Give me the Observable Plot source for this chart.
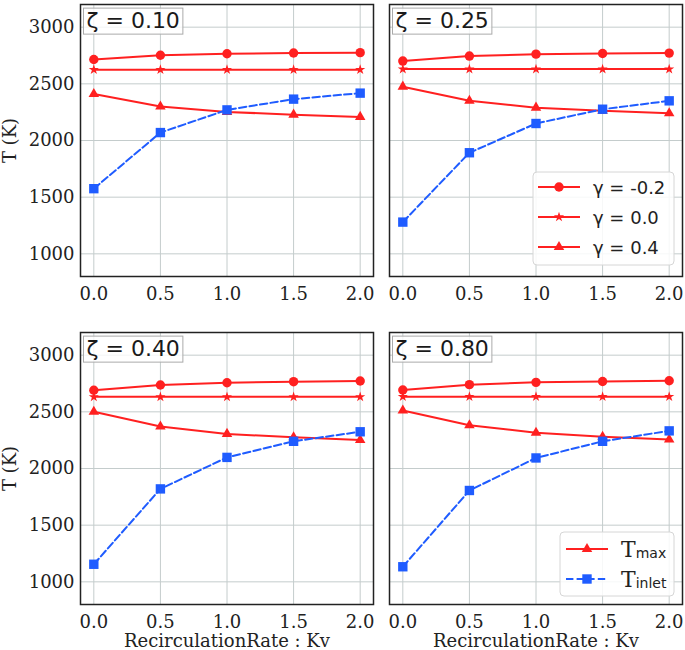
<!DOCTYPE html>
<html>
<head>
<meta charset="utf-8">
<script src="https://cdn.jsdelivr.net/npm/d3@7"></script>
<script src="https://cdn.jsdelivr.net/npm/@observablehq/plot@0.6"></script>
<style>
  body { margin: 0; background: #fff; }
  #wrap { position: relative; width: 685px; height: 650px; }
  #wrap > svg { display: block; }
</style>
</head>
<body>
<div id="wrap"></div>
<script>
// ---- data ----
const kv = [0, 0.5, 1.0, 1.5, 2.0];
const zetaLabels = ["ζ = 0.10", "ζ = 0.25", "ζ = 0.40", "ζ = 0.80"];
const xTicks = [0, 0.5, 1.0, 1.5, 2.0];
const yTicks = [1000, 1500, 2000, 2500, 3000];
const gammaLabels = ["γ = -0.2", "γ = 0.0", "γ = 0.4"];
const xLabel = "RecirculationRate : Kv";
const yLabel = "T (K)";

// T_max for each ζ panel (rows) at each Kv (columns)
const tmaxGammaNeg02 = [
  [2715, 2752, 2765, 2772, 2775],
  [2701, 2745, 2762, 2768, 2771],
  [2690, 2737, 2757, 2766, 2772],
  [2693, 2740, 2760, 2768, 2774]
];
const tmaxGamma00 = [
  [2625, 2625, 2625, 2625, 2625],
  [2630, 2630, 2630, 2630, 2630],
  [2632, 2632, 2632, 2632, 2632],
  [2634, 2634, 2634, 2634, 2634]
];
const tmaxGamma04 = [
  [2410, 2300, 2252, 2228, 2208],
  [2475, 2350, 2290, 2262, 2240],
  [2500, 2370, 2305, 2275, 2252],
  [2512, 2382, 2315, 2280, 2256]
];
const tInlet = [
  [1575, 2070, 2270, 2365, 2418],
  [1280, 1892, 2150, 2276, 2350],
  [1155, 1820, 2098, 2240, 2324],
  [1133, 1806, 2093, 2240, 2332]
];

// ---- styles ----
const red = "#ff2020";
const blue = "#1f5cff";
const gridColor = "#c4cccc";
const rCircle = 4.7, rStar = 3.2, rTri = 3.9, rSquare = 5.3;

const toRows = (values) => values.flatMap((arr, p) =>
  arr.map((t, j) => ({kv: kv[j], t, col: p % 2, row: Math.floor(p / 2)})));
const panels = zetaLabels.map((label, p) => ({label, col: p % 2, row: Math.floor(p / 2)}));

const sNeg = toRows(tmaxGammaNeg02);
const s00 = toRows(tmaxGamma00);
const s04 = toRows(tmaxGamma04);
const sIn = toRows(tInlet);
const ch = {x: "kv", y: "t", fx: "col", fy: "row"};

const plot = Plot.plot({
  width: 685,
  height: 650,
  marginLeft: 79,
  marginRight: 3,
  marginTop: 3,
  marginBottom: 45,
  style: {fontFamily: "DejaVu Serif", fontSize: "18px", color: "#222", background: "white", overflow: "visible"},
  x: {domain: [-0.1, 2.1]},
  y: {domain: [800, 3200]},
  fx: {axis: null, paddingInner: 0.052, paddingOuter: 0},
  fy: {axis: null, paddingInner: 0.17, paddingOuter: 0},
  marks: [
    Plot.gridX({ticks: xTicks, stroke: gridColor, strokeOpacity: 1, strokeWidth: 1}),
    Plot.gridY({ticks: yTicks, stroke: gridColor, strokeOpacity: 1, strokeWidth: 1}),
    Plot.axisX({ticks: xTicks, tickFormat: d3.format(".1f"), tickSize: 0, tickPadding: 11, facetAnchor: null, label: null, fontSize: 18, fill: "#222"}),
    Plot.axisY({ticks: yTicks, tickFormat: d => String(d), tickSize: 0, tickPadding: 6, label: null, fontSize: 18, fill: "#222"}),
    Plot.line(sNeg, {...ch, stroke: red, strokeWidth: 2}),
    Plot.dot(sNeg, {...ch, symbol: "circle", fill: red, r: rCircle}),
    Plot.line(s00, {...ch, stroke: red, strokeWidth: 2}),
    Plot.dot(s00, {...ch, symbol: "star", fill: red, r: rStar}),
    Plot.line(s04, {...ch, stroke: red, strokeWidth: 2}),
    Plot.dot(s04, {...ch, symbol: "triangle", fill: red, r: rTri}),
    Plot.line(sIn, {...ch, stroke: blue, strokeWidth: 2, strokeDasharray: "7.4,3.2"}),
    Plot.dot(sIn, {...ch, symbol: "square", fill: blue, r: rSquare}),
    Plot.frame({stroke: "#222", strokeWidth: 1.5}),
    Plot.text(panels, {fx: "col", fy: "row", text: "label", frameAnchor: "top-left", dx: 6, dy: 8,
      lineAnchor: "top", textAnchor: "start", fontFamily: "DejaVu Sans", fontSize: 22, fill: "#1a1a1a"}),
    Plot.text(panels.filter(d => d.col === 0), {fx: "col", fy: "row", text: () => yLabel, frameAnchor: "left",
      dx: -70, rotate: -90, textAnchor: "middle", lineAnchor: "middle", fontSize: 18, fill: "#222"}),
    Plot.text(panels.filter(d => d.row === 1), {fx: "col", fy: "row", text: () => xLabel, frameAnchor: "bottom",
      dy: 37, textAnchor: "middle", lineAnchor: "middle", fontSize: 18, fill: "#222"})
  ]
});

const wrap = document.getElementById("wrap");
wrap.appendChild(plot);

// boxes behind the ζ panel labels
const NS = "http://www.w3.org/2000/svg";
plot.querySelectorAll("text").forEach(t => {
  if (t.textContent.startsWith("ζ")) {
    const b = t.getBBox();
    const rect = document.createElementNS(NS, "rect");
    rect.setAttribute("x", b.x - 3);
    rect.setAttribute("y", b.y);
    rect.setAttribute("width", b.width + 6);
    rect.setAttribute("height", b.height + 1);
    rect.setAttribute("fill", "white");
    rect.setAttribute("fill-opacity", 0.8);
    rect.setAttribute("stroke", "#aaaaaa");
    rect.setAttribute("stroke-width", 1);
    const tr = t.getAttribute("transform");
    if (tr) rect.setAttribute("transform", tr);
    t.parentNode.insertBefore(rect, t);
  }
});

// legends (overlay)
const ov = d3.select(wrap).append("svg")
  .attr("width", 685).attr("height", 650)
  .style("position", "absolute").style("left", "0px").style("top", "0px")
  .style("pointer-events", "none");

function legendBox(x, y, w, h) {
  ov.append("rect").attr("x", x).attr("y", y).attr("width", w).attr("height", h)
    .attr("rx", 4).attr("fill", "white").attr("fill-opacity", 0.85)
    .attr("stroke", "#d6d6d6").attr("stroke-width", 1);
}
function legendRow(x0, x1, y, color, dash, type, r) {
  ov.append("line").attr("x1", x0).attr("x2", x1).attr("y1", y).attr("y2", y)
    .attr("stroke", color).attr("stroke-width", 2).attr("stroke-dasharray", dash);
  ov.append("path").attr("d", d3.symbol().type(type).size(Math.PI * r * r)())
    .attr("transform", `translate(${(x0 + x1) / 2},${y})`).attr("fill", color);
}

// legend 1 (γ)
legendBox(533, 172, 141, 93);
const gammaSymbols = [[d3.symbolCircle, rCircle], [d3.symbolStar, rStar], [d3.symbolTriangle, rTri]];
gammaLabels.forEach((lab, i) => {
  const y = 187 + i * 30;
  legendRow(538, 580, y, red, null, gammaSymbols[i][0], gammaSymbols[i][1]);
  ov.append("text").attr("x", 593).attr("y", y + 7).attr("font-family", "DejaVu Sans")
    .attr("font-size", 18).attr("fill", "#222").text(lab);
});

// legend 2 (T_max, T_inlet)
legendBox(560, 532, 114, 64);
const tLegend = [["max", red, null, d3.symbolTriangle, rTri], ["inlet", blue, "7.4,3.2", d3.symbolSquare, rSquare]];
tLegend.forEach(([sub, color, dash, type, r], i) => {
  const y = 549 + i * 30;
  legendRow(566, 608, y, color, dash, type, r);
  const tx = ov.append("text").attr("x", 621).attr("y", y + 8).attr("fill", "#222");
  tx.append("tspan").attr("font-family", "DejaVu Serif").attr("font-size", 22).text("T");
  tx.append("tspan").attr("font-family", "DejaVu Sans").attr("font-size", 14).attr("dy", 1).text(sub);
});
</script>
</body>
</html>
